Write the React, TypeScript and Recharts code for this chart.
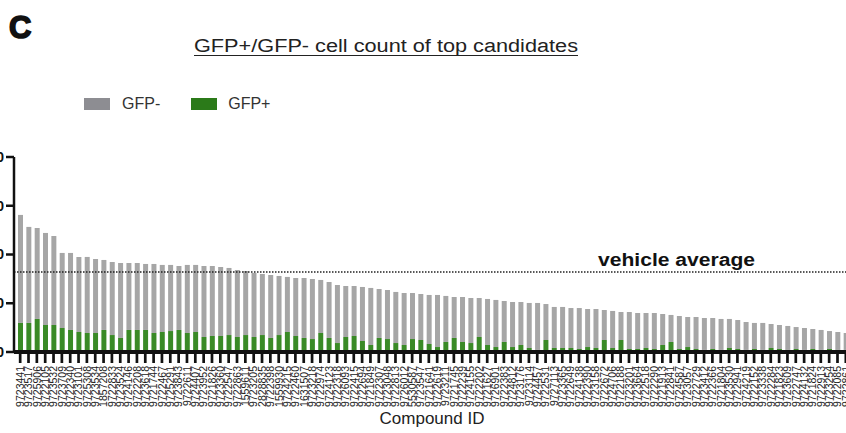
import React from 'react';
import { BarChart, Bar, XAxis, YAxis, ReferenceLine, Legend } from 'recharts';

const compoundIds = [
  '9723441', '9723517', '9725906', '9722105', '9723532', '9723709', '9722340', '9723101', '9725308', '9723534',
  '1857208', '9722833', '9723524', '9724146', '9722208', '9723618', '9721744', '9722467', '9725291', '9723843',
  '9722611', '9724407', '9723952', '9721826', '9723360', '9722547', '9722863', '1559611', '9723205', '2828835',
  '9722398', '1559930', '9724215', '9722460', '1631507', '9723218', '9722974', '9724123', '9722318', '9726093',
  '9722415', '9722694', '9721849', '9722307', '9723048', '9722813', '9726012', '5530587', '9723547', '9721641',
  '9722619', '9723211', '9721745', '9722239', '9724155', '9722202', '9721627', '9726901', '9722383', '9724812',
  '9723176', '9723114', '9724457', '9722531', '9727113', '9723365', '9722649', '9724138', '9722390', '9723158',
  '9722672', '9724706', '9722188', '9723201', '9723664', '9722518', '9722290', '9721913', '9722841', '9724587',
  '9723057', '9722729', '9723412', '9722366', '9721804', '9723530', '9722941', '9724219', '9722152', '9723338',
  '9722284', '9721823', '9723609', '9722747', '9724132', '9721824', '9722913', '9723254', '9722085', '9722861',
];

// total cell count (GFP- + GFP+) per compound, i.e. top of the stacked bar
const totalCount = [
  1406, 1283, 1272, 1221, 1190, 1016, 1016, 975, 975, 954,
  944, 923, 913, 913, 913, 903, 903, 893, 893, 882,
  893, 893, 882, 882, 872, 862, 841, 831, 811, 800,
  790, 780, 770, 759, 759, 749, 739, 718, 687, 677,
  677, 667, 657, 646, 636, 616, 605, 605, 595, 585,
  585, 575, 564, 564, 554, 554, 544, 534, 523, 513,
  513, 503, 503, 492, 462, 462, 451, 451, 441, 441,
  431, 421, 410, 410, 400, 400, 400, 390, 380, 369,
  359, 359, 349, 349, 339, 339, 328, 308, 298, 298,
  287, 277, 267, 256, 246, 236, 226, 215, 205, 195,
];

// GFP+ cell count per compound
const gfpPlus = [
  298, 298, 339, 277, 277, 246, 226, 205, 195, 195,
  226, 174, 144, 226, 226, 226, 195, 205, 215, 226,
  195, 205, 154, 164, 164, 174, 154, 174, 154, 174,
  144, 174, 205, 164, 144, 133, 195, 144, 92, 154,
  164, 113, 72, 144, 133, 92, 72, 133, 123, 82,
  51, 103, 144, 103, 92, 154, 72, 51, 103, 51,
  72, 41, 21, 123, 41, 41, 41, 31, 51, 41,
  123, 41, 123, 31, 31, 41, 31, 72, 103, 31,
  51, 31, 21, 31, 21, 41, 31, 21, 31, 21,
  41, 31, 21, 31, 21, 31, 21, 31, 21, 21,
];

const yTicks = [0, 500, 1000, 1500, 2000];
const vehicleAverage = 821;

// GFP- segment sits on top of the GFP+ segment
const data = compoundIds.map((id, i) => ({
  id,
  pos: gfpPlus[i],
  neg: totalCount[i] - gfpPlus[i],
}));

const FONT = "'Liberation Sans', Arial, Helvetica, sans-serif";
const GRAY = '#a6a6a6';
const GREEN = '#3a8a26';
const LEGEND_GRAY = '#8d8d92';
const LEGEND_GREEN = '#2b7a19';
const SHIFT = 50;

const XTick = (props: any) => {
  const { x, y, payload } = props;
  return (
    <text
      transform={`translate(${x + 3.8},${y + 1}) rotate(-90)`}
      textAnchor="end"
      fontSize={10.5}
      fill="#222"
      fontFamily={FONT}
    >
      {payload.value}
    </text>
  );
};

const renderLegend = () => (
  <div
    style={{
      display: 'flex',
      alignItems: 'center',
      fontFamily: FONT,
      fontSize: 16,
      lineHeight: '16px',
      color: '#333',
      whiteSpace: 'nowrap',
    }}
  >
    <span style={{ display: 'inline-block', width: 26, height: 12, background: LEGEND_GRAY }} />
    <span style={{ marginLeft: 12 }}>GFP-</span>
    <span style={{ display: 'inline-block', width: 26, height: 12, background: LEGEND_GREEN, marginLeft: 31 }} />
    <span style={{ marginLeft: 11 }}>GFP+</span>
  </div>
);

const VehicleLabel = (props: any) => {
  const vb = props.viewBox || {};
  return (
    <text
      x={598 + SHIFT}
      y={(vb.y ?? 0) - 6}
      fontSize={18}
      fontWeight="bold"
      fill="#111"
      fontFamily={FONT}
      textLength={157}
      lengthAdjust="spacingAndGlyphs"
    >
      vehicle average
    </text>
  );
};

export default function App() {
  return (
    <div
      style={{
        position: 'absolute',
        left: 0,
        top: 0,
        width: 846,
        height: 433,
        overflow: 'hidden',
        background: '#fff',
      }}
    >
      <svg
        width={846}
        height={433}
        style={{ position: 'absolute', left: 0, top: 0, pointerEvents: 'none' }}
      >
        <text
          x={9}
          y={38}
          fontSize={31}
          fontWeight={900}
          fill="#111"
          stroke="#111"
          strokeWidth={1.6}
          fontFamily={FONT}
        >
          C
        </text>
        <text
          x={194}
          y={52}
          fontSize={18}
          fill="#222"
          fontFamily={FONT}
          textLength={384}
          lengthAdjust="spacingAndGlyphs"
        >
          GFP+/GFP- cell count of top candidates
        </text>
        <line x1={194} x2={578} y1={55.5} y2={55.5} stroke="#222" strokeWidth={1.2} />
      </svg>
      <div style={{ position: 'absolute', left: -SHIFT, top: 0 }}>
        <BarChart
          width={846 + SHIFT + 4}
          height={433}
          data={data}
          margin={{ top: 157, right: 0, left: 0, bottom: 0 }}
        >
          <Legend
            layout="horizontal"
            verticalAlign="middle"
            align="center"
            content={renderLegend}
            wrapperStyle={{ position: 'absolute', top: 96, left: 84 + SHIFT, width: 'auto', height: 16 }}
          />
          <XAxis
            dataKey="id"
            interval={0}
            tick={<XTick />}
            tickSize={11}
            tickMargin={2}
            height={81}
            padding={{ left: 2, right: 0 }}
            axisLine={{ stroke: '#111', strokeWidth: 4 }}
            tickLine={{ stroke: '#111', strokeWidth: 2.7 }}
            label={{
              value: 'Compound ID',
              position: 'insideBottom',
              offset: 9,
              fontSize: 17,
              fill: '#222',
              fontFamily: FONT,
            }}
          />
          <YAxis
            width={SHIFT + 14}
            domain={[0, 2000]}
            ticks={yTicks}
            interval={0}
            tickSize={8}
            tickMargin={2}
            axisLine={{ stroke: '#111', strokeWidth: 2.5 }}
            tickLine={{ stroke: '#111', strokeWidth: 2.5 }}
            tick={{ fontSize: 14, fill: '#111', fontFamily: FONT, fontWeight: 'bold' }}
          />
          <ReferenceLine
            y={vehicleAverage}
            stroke="#222"
            strokeWidth={1.6}
            strokeDasharray="1.5 1.5"
            label={<VehicleLabel />}
          />
          <Bar dataKey="pos" name="GFP+" stackId="cells" fill={GREEN} barSize={5} isAnimationActive={false} />
          <Bar dataKey="neg" name="GFP-" stackId="cells" fill={GRAY} barSize={5} isAnimationActive={false} />
        </BarChart>
      </div>
    </div>
  );
}
